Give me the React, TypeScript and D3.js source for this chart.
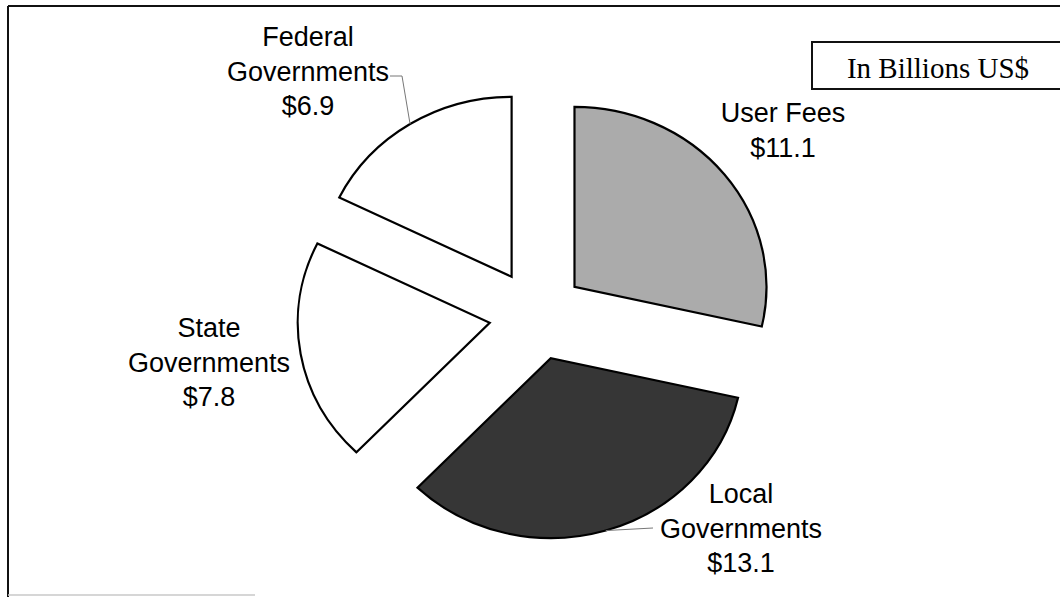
import React from "react";
import * as d3 from "d3";

const categories = ["User Fees", "Local Governments", "State Governments", "Federal Governments"];
const values = [11.1, 13.1, 7.8, 6.9];
const labelHeads = [["User Fees"], ["Local", "Governments"], ["State", "Governments"], ["Federal", "Governments"]];
const unitNote = "In Billions US$";

const W = 1060;
const H = 597;
const CX = 537;
const CY = 315;
const R = 192;
const YS = 180 / 192;
const EXPLODE = 48;

const fills = ["#ababab", "#363636", "#ffffff", "#ffffff"];
// label anchor: center x, first baseline
const labelPos = [
  { x: 783, y: 122 },
  { x: 741, y: 503 },
  { x: 209, y: 337 },
  { x: 308, y: 46 },
];
const LINE = 34.5;

export default function App() {
  const pie = d3
    .pie<number>()
    .sort(null)
    .startAngle(0)
    .endAngle(2 * Math.PI)
    .value((d) => d);
  const arcs = pie(values);
  const arcGen = d3.arc<d3.PieArcDatum<number>>().innerRadius(0).outerRadius(R);

  const offsets = arcs.map((a) => {
    const mid = (a.startAngle + a.endAngle) / 2;
    return { dx: EXPLODE * Math.sin(mid), dy: -EXPLODE * Math.cos(mid), mid };
  });

  const arcMid = (i: number) => {
    const o = offsets[i];
    return {
      x: CX + o.dx + R * Math.sin(o.mid),
      y: CY + (o.dy - R * Math.cos(o.mid)) * YS,
    };
  };

  const fedMid = arcMid(3);
  const locMid = arcMid(1);

  return (
    <svg
      width={W}
      height={H}
      style={{ position: "absolute", left: 0, top: 0, background: "#fff" }}
    >
      <rect x={0} y={0} width={W} height={H} fill="#fff" />
      {/* frame */}
      <line x1={8} y1={6} x2={W} y2={6} stroke="#111" strokeWidth={2} />
      <line x1={8} y1={6} x2={8} y2={597} stroke="#111" strokeWidth={2} />
      <line x1={8} y1={595} x2={255} y2={595} stroke="#c8c8c8" strokeWidth={1.5} />

      <g transform={`translate(${CX},${CY}) scale(1,${YS})`}>
        {arcs.map((a, i) => (
          <path
            key={categories[i]}
            d={arcGen(a) || ""}
            transform={`translate(${offsets[i].dx},${offsets[i].dy})`}
            fill={fills[i]}
            stroke="#000"
            strokeWidth={2.2}
            strokeLinejoin="miter"
            vectorEffect="non-scaling-stroke"
          />
        ))}
      </g>

      {/* leader lines */}
      <polyline
        points={`${fedMid.x},${fedMid.y} 402,76 390,76`}
        fill="none"
        stroke="#777"
        strokeWidth={1}
      />
      <polyline
        points={`${locMid.x},${locMid.y} 653,528`}
        fill="none"
        stroke="#777"
        strokeWidth={1}
      />

      {labelHeads.map((lines, i) => {
        const all = [...lines, `$${values[i].toFixed(1)}`];
        return (
          <text
            key={categories[i]}
            x={labelPos[i].x}
            y={labelPos[i].y}
            textAnchor="middle"
            fontFamily="Liberation Sans, Arial, sans-serif"
            fontSize={27}
            fill="#000"
          >
            {all.map((t, j) => (
              <tspan key={j} x={labelPos[i].x} y={labelPos[i].y + j * LINE}>
                {t}
              </tspan>
            ))}
          </text>
        );
      })}

      {/* unit box */}
      <rect x={812} y={42} width={260} height={47} fill="#fff" stroke="#111" strokeWidth={2} />
      <text
        x={938}
        y={78}
        textAnchor="middle"
        fontFamily="Liberation Serif, Times New Roman, serif"
        fontSize={29}
        fill="#000"
      >
        {unitNote}
      </text>
    </svg>
  );
}
